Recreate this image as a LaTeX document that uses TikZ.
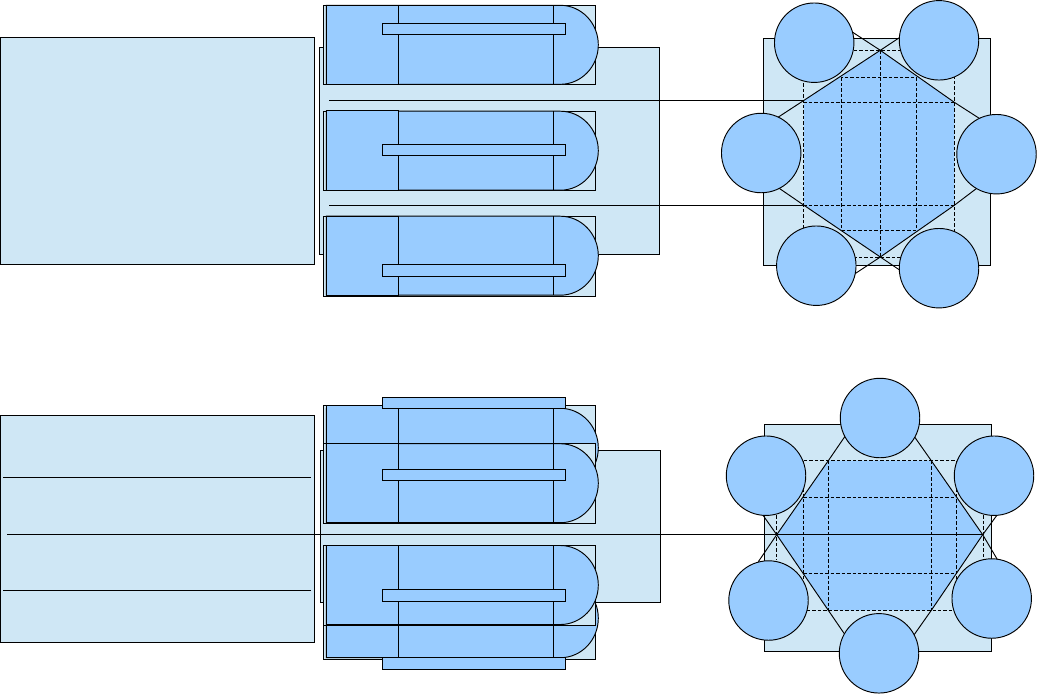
\documentclass[tikz,border=0pt]{standalone}
\usepackage{tikz}
\usetikzlibrary{calc,positioning}
\definecolor{plate}{HTML}{CFE7F5}
\definecolor{part}{HTML}{99CCFF}
\tikzset{
  platebox/.style={draw=black,fill=plate,line width=0.7pt},
  partbox/.style={draw=black,fill=part,line width=0.7pt},
  wire/.style={draw=black,line width=0.7pt},
  grid line/.style={draw=black,line width=0.6pt,dash pattern=on 2.6pt off 1.5pt},
  rollnode/.style={circle,draw=black,fill=part,line width=0.7pt,minimum size=59.6pt,inner sep=0pt}
}
\begin{document}
\begin{tikzpicture}[x=0.75pt,y=-0.75pt]
\useasboundingbox (0,0) rectangle (1037,694);
% side views, plates
\draw[platebox] (0.5,37.3) rectangle (314.7,264.7);
\draw[platebox] (319.3,47.3) rectangle (659.7,254.3);
\draw[platebox] (0.5,415.3) rectangle (314.7,642.3);
\draw[platebox] (320.3,450.3) rectangle (660.3,602.3);
% boxtop/boxbot/lefttop/centre/bartop/barbot
\foreach \bt/\bb/\lt/\cy/\rt/\rb in {5.3/84.3/5.3/44.8/23.3/34.3,111.3/190.3/110.3/150.7/144.3/155.3,216.3/296.3/216.3/255.7/264.3/276.3,
    405.3/487/405.3/447.8/397.7/408.3,443.3/523.3/443.3/483.2/469.3/480.3,580/659.3/580/618.2/657.3/669.3,545.3/625.3/545.3/585/589.3/601.7}{
  \draw[platebox] (323.3,\bt) rectangle (595.3,\bb);
  \draw[partbox] (326.3,\cy-39.5) -- (560.3,\cy-39.5) arc[start angle=-90,end angle=90,x radius=38,y radius=39.5] -- (326.3,\cy+39.5) -- cycle;
  \draw[partbox] (326.3,\lt) rectangle (398.3,\cy+39.5);
  \draw[wire] (553.3,\cy-39.5) -- (553.3,\cy+39.5);
  \draw[partbox] (382.3,\rt) rectangle (565.7,\rb);
}
% upper view, end
\draw[platebox] (763.5,38.3) rectangle (990.5,265.3);
\coordinate (ua) at (880.3,50.3);
\coordinate (ub) at (954.3,102.3);
\coordinate (uc) at (954.3,205.3);
\coordinate (ud) at (880.3,257);
\coordinate (ue) at (804,205.3);
\coordinate (uf) at (804,100.3);
\fill[part] (ua) -- (ub) -- (uc) -- (ud) -- (ue) -- (uf) -- cycle;
\draw[grid line] (803.3,50.3) rectangle (954.3,257);
\draw[grid line] (841.3,77.3) rectangle (916.3,230);
\draw[grid line] (880.3,50.3) -- (880.3,257);
\draw[grid line] (803.3,102.3) -- (954.3,102.3);
\draw[grid line] (803.3,205.3) -- (954.3,205.3);
\draw[wire] (770,122.5) -- (uf) -- (ua) -- (920,24);
\draw[wire] (840,24) -- (ua) -- (ub) -- (985,122);
\draw[wire] (770,182) -- (ue) -- (ud) -- (910,277);
\draw[wire] (850,277) -- (ud) -- (uc) -- (985,182);
\coordinate (us) at (329,100.3);
\coordinate (ut) at (329,205.3);
\draw[wire] (us) -- (uf);
\draw[wire] (ut) -- (ue);
\foreach \n/\px/\py in {ul/814.2/42.7,ur/939/40.3,ml/761.2/153,mr/996.5/154.2,dl/816.3/265.7,dr/939/268.2}{
  \node[rollnode] (\n) at (\px,\py) {};
}
% lower view, end
\draw[platebox] (764.3,424.7) rectangle (991.3,651.3);
\coordinate (la) at (776.7,534.7);
\coordinate (lb) at (828.3,460.7);
\coordinate (lc) at (931.3,460.7);
\coordinate (ld) at (982.7,534.7);
\coordinate (le) at (931.3,610.3);
\coordinate (lf) at (828.3,610.3);
\fill[part] (la) -- (lb) -- (lc) -- (ld) -- (le) -- (lf) -- cycle;
\draw[grid line] (803.3,460.7) rectangle (956.3,610.3);
\draw[grid line] (803.3,497.3) -- (956.3,497.3);
\draw[grid line] (803.3,573.3) -- (956.3,573.3);
\draw[grid line] (828.3,460.7) -- (828.3,610.3);
\draw[grid line] (931.3,460.7) -- (931.3,610.3);
\draw[grid line] (776.3,510) -- (776.3,560);
\draw[grid line] (983.3,510) -- (983.3,560);
\draw[wire] (758.3,561.7) -- (la) -- (lb) -- (850,429);
\draw[wire] (760,511) -- (la) -- (lf) -- (850,642);
\draw[wire] (909,429) -- (lc) -- (ld) -- (1000,564);
\draw[wire] (909,642) -- (le) -- (ld) -- (1000,511);
\coordinate (ls) at (7,534.7);
\draw[wire] (ls) -- (ld);
\draw[wire] (3,477.3) -- (310.7,477.3);
\draw[wire] (3,590.3) -- (310.7,590.3);
\foreach \n/\px/\py in {lt/880/418,lu/879/653.3,ltl/766/475.7,ltr/994/475.7,lbl/768.5/600.5,lbr/991.7/598.5}{
  \node[rollnode] (\n) at (\px,\py) {};
}
\end{tikzpicture}
\end{document}
